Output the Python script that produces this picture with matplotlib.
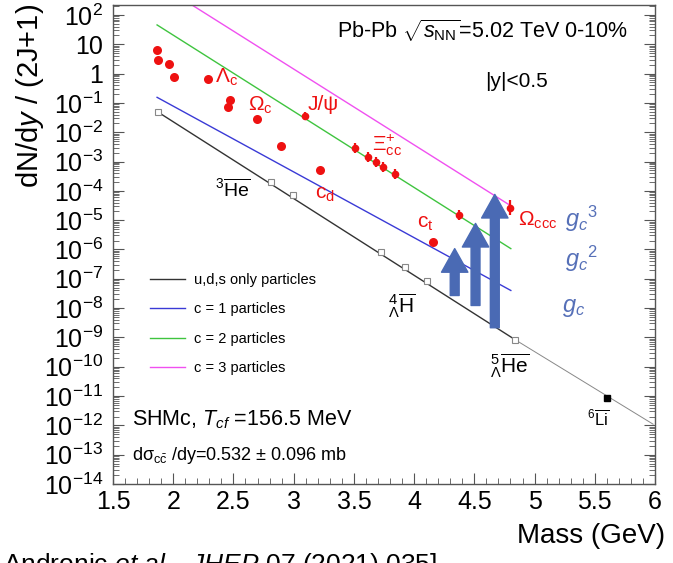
import numpy as np
import matplotlib
matplotlib.use("Agg")
from matplotlib import pyplot as plt
from matplotlib.ticker import MultipleLocator, LogLocator, FuncFormatter, NullFormatter

plt.rcParams['font.family'] = ['Liberation Sans', 'DejaVu Sans']
plt.rcParams['mathtext.fontset'] = 'custom'
plt.rcParams['mathtext.rm'] = 'Liberation Sans'
plt.rcParams['mathtext.it'] = 'Liberation Sans:italic'
plt.rcParams['mathtext.bf'] = 'Liberation Sans:bold'

# open charm hadrons (no error bars)
charm_mass = [1.865, 1.870, 1.968, 2.010, 2.286, 2.454, 2.470, 2.695, 2.895, 3.220, 4.156]
charm_yield = [6.3, 2.8, 2.2, 0.78, 0.66, 0.073, 0.13, 0.028, 3.4e-3, 5.0e-4, 1.85e-6]

# hidden / multi charm with error bars (err in decades)
cc_mass = [3.097, 3.510, 3.616, 3.685, 3.740, 3.838, 4.373, 4.800]
cc_yield = [0.035, 2.8e-3, 1.45e-3, 9.7e-4, 6.5e-4, 3.9e-4, 1.45e-5, 2.66e-5]
cc_err = [0.14, 0.17, 0.17, 0.17, 0.17, 0.17, 0.17, 0.26]

# light (anti)nuclei
nuc_mass = [1.876, 2.809, 2.991, 3.727, 3.922, 4.106, 4.840]
nuc_yield = [0.048, 1.95e-4, 7.1e-5, 8.5e-7, 2.6e-7, 8.7e-8, 8.3e-10]
li6_mass = [5.601]
li6_yield = [8.7e-12]

# model lines
uds_mass = [1.876, 4.840]
uds_yield = [0.048, 8.3e-10]
uds_ext_mass = [4.840, 5.984]
uds_ext_yield = [8.3e-10, 1.1e-12]
c1_mass = [1.866, 4.803]
c1_yield = [0.155, 4.0e-8]
c2_mass = [1.866, 4.803]
c2_yield = [45.7, 1.07e-6]
c3_mass = [1.866, 4.797]
c3_yield = [1230.0, 3.2e-5]

# g_c enhancement arrows
arrow_mass = [4.337, 4.51, 4.67]
arrow_base = [10**-7.57, 10**-7.91, 10**-8.67]
arrow_tip = [10**-5.97, 10**-5.11, 10**-4.12]

fig = plt.figure(figsize=(6.73, 5.63), dpi=100)
ax = fig.add_axes([113/673, 1-484/563, 542/673, 479/563])
ax.set_yscale('log')
ax.set_xlim(1.5, 6.0)
ax.set_ylim(1e-14, 10**2.34)

ax.plot(uds_mass, uds_yield, color='#333333', lw=1.0, label='u,d,s only particles')
ax.plot(uds_ext_mass, uds_ext_yield, color='#888888', lw=0.7)
ax.plot(c1_mass, c1_yield, color='#3a3ad6', lw=1.0, label='c = 1 particles')
ax.plot(c2_mass, c2_yield, color='#3fc43f', lw=1.0, label='c = 2 particles')
ax.plot(c3_mass, c3_yield, color='#f050f0', lw=1.0, label='c = 3 particles')

ax.plot(nuc_mass, nuc_yield, 's', ms=5, mfc='white', mec='#888888', mew=0.8)
ax.plot(li6_mass, li6_yield, 's', ms=5, color='black')

ax.plot(charm_mass, charm_yield, 'o', ms=6.5, color='#ee1111', mec='none', zorder=5)
cc_y = np.array(cc_yield)
cc_e = np.array(cc_err)
ax.errorbar(cc_mass, cc_y, yerr=[cc_y - cc_y * 10**(-cc_e), cc_y * 10**cc_e - cc_y],
            fmt='o', ms=5.5, color='#ee1111', mec='none', elinewidth=1.6, capsize=0, zorder=5)

for xm, yb, yt in zip(arrow_mass, arrow_base, arrow_tip):
    ax.annotate('', xy=(xm, yt), xytext=(xm, yb),
                arrowprops=dict(arrowstyle='simple,head_width=0.95,head_length=0.85,tail_width=0.32',
                                color='#4a6ab4', mutation_scale=20, shrinkA=0, shrinkB=0),
                zorder=4)

red = '#ee1111'
fs_lab = 15
ax.text(2.347, 10**-0.116, 'Λ$_{\\rm c}$', color=red, fontsize=fs_lab, va='center')
ax.text(2.621, 10**-1.07, 'Ω$_{\\rm c}$', color=red, fontsize=fs_lab, va='center')
ax.text(3.119, 10**-1.07, 'J/ψ', color=red, fontsize=fs_lab, va='center')
ax.text(3.65, 10**-2.44, 'Ξ$_{\\rm cc}^{+}$', color=red, fontsize=fs_lab, va='center')
ax.text(3.177, 10**-4.14, 'c$_{\\rm d}$', color=red, fontsize=fs_lab, va='center')
ax.text(4.024, 10**-5.10, 'c$_{\\rm t}$', color=red, fontsize=fs_lab, va='center')
ax.text(4.863, 10**-5.0, 'Ω$_{\\rm ccc}$', color=red, fontsize=fs_lab, va='center')

blue = '#5670b8'
ax.text(5.253, 10**-4.96, '$g_c{}^3$', color=blue, fontsize=17, va='center')
ax.text(5.253, 10**-6.33, '$g_c{}^2$', color=blue, fontsize=17, va='center')
ax.text(5.228, 10**-8.0, '$g_c$', color=blue, fontsize=17, va='center')

ax.text(2.347, 10**-3.94, '$^{3}\\overline{\\rm He}$', fontsize=14, va='center')
ax.text(3.783, 10**-7.93, '${}^{4}_{\\Lambda}\\overline{\\rm H}$', fontsize=15, va='center')
ax.text(4.63, 10**-9.95, '${}^{5}_{\\Lambda}\\overline{\\rm He}$', fontsize=15, va='center')
ax.text(5.436, 10**-11.75, '$^{6}\\overline{\\rm Li}$', fontsize=12, va='center')

ax.text(0.413, 0.946, 'Pb-Pb $\\sqrt{s_{\\rm NN}}$=5.02 TeV 0-10%', transform=ax.transAxes,
        fontsize=15.5, va='center')
ax.text(0.686, 0.841, '|y|<0.5', transform=ax.transAxes, fontsize=15, va='center')
ax.text(0.035, 0.134, 'SHMc, $T_{cf}$ =156.5 MeV', transform=ax.transAxes, fontsize=15.5, va='center')
ax.text(0.035, 0.0605, 'dσ$_{\\rm c\\bar{c}}$ /dy=0.532 ± 0.096 mb', transform=ax.transAxes,
        fontsize=13, va='center')

leg = ax.legend(loc='upper left', bbox_to_anchor=(0.068, 0.4405), frameon=False, fontsize=10.5,
                handlelength=2.4, handletextpad=0.6, labelspacing=1.05, borderpad=0, borderaxespad=0)

# axis styling
def ylab(v, pos):
    e = int(round(np.log10(v)))
    if e == 0:
        return '1'
    if e == 1:
        return '10'
    return '$10^{%d}$' % e

ax.xaxis.set_major_locator(MultipleLocator(0.5))
ax.xaxis.set_minor_locator(MultipleLocator(0.1))
ax.xaxis.set_major_formatter(FuncFormatter(lambda v, p: ('%g' % v)))
ax.yaxis.set_major_locator(LogLocator(base=10, numticks=30))
ax.yaxis.set_minor_locator(LogLocator(base=10, subs=np.arange(2, 10), numticks=30))
ax.yaxis.set_major_formatter(FuncFormatter(ylab))
ax.yaxis.set_minor_formatter(NullFormatter())
ax.tick_params(which='both', direction='in', right=True, top=False, labelsize=18, color='#555555')
ax.tick_params(which='major', length=8, width=0.8)
ax.tick_params(which='minor', length=4, width=0.6)
ax.tick_params(axis='y', pad=7)
ax.tick_params(axis='x', pad=4)
for sp in ax.spines.values():
    sp.set_color('#555555')
    sp.set_linewidth(1.0)

fig.text(30/673, 1-4/563, 'dN/d$y$ / (2J+1)', rotation=90, ha='center', va='top', fontsize=21)
fig.text(665/673, 1-536/563, 'Mass (GeV)', ha='right', va='center', fontsize=20)
fig.text(3/673, 1-551/563, 'Andronic $\\it{et\\ al.}$, $\\it{JHEP}$ 07 (2021) 035]', ha='left', va='top',
         fontsize=19)

fig.savefig('out.png', dpi=100)
